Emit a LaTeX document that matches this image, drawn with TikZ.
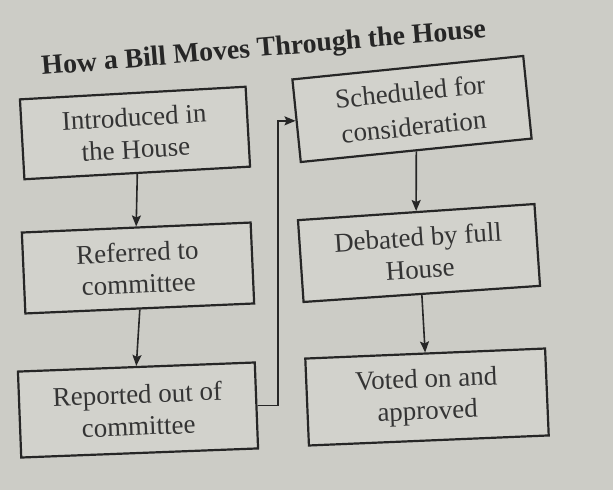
\documentclass[tikz,border=0pt]{standalone}
\usepackage{fontspec}
\setmainfont{Liberation Serif}
\usetikzlibrary{arrows.meta}
\definecolor{paper}{RGB}{204,204,198}
\definecolor{boxfill}{RGB}{210,210,204}
\definecolor{ink}{RGB}{38,38,38}
\definecolor{txt}{RGB}{52,52,52}
\tikzset{
  stepbox/.style={draw=ink, line width=2.2pt, fill=boxfill, align=center,
    text=txt, inner sep=0pt, font=\fontsize{27}{32}\selectfont},
  flow/.style={draw=ink, line width=1.6pt,
    -{Stealth[length=11pt,width=9pt,inset=2pt]}},
  titletext/.style={text=ink, inner sep=0pt,
    font=\fontsize{27.8}{30}\selectfont\bfseries}
}
\begin{document}
\begin{tikzpicture}[x=1pt,y=-1pt]
\useasboundingbox (0,0) rectangle (613,490);
\fill[paper] (0,0) rectangle (613,490);

\node[titletext, anchor=base west, rotate=4.8] (title) at (42,75)
  {How a Bill Moves Through the House};

\node[stepbox, minimum width=226pt, minimum height=80pt, rotate=3.2] (b1) at (135,133)
  {Introduced in\\the House};
\node[stepbox, minimum width=229pt, minimum height=81pt, rotate=2.5] (b2) at (138,268)
  {Referred to\\committee};
\node[stepbox, minimum width=237pt, minimum height=86pt, rotate=2.2] (b3) at (138,410)
  {Reported out of\\committee};
\node[stepbox, minimum width=232pt, minimum height=83pt, rotate=5.8,
  font=\fontsize{27}{35}\selectfont] (b4) at (412,109)
  {Scheduled for\\consideration};
\node[stepbox, minimum width=237pt, minimum height=82pt, rotate=3.9] (b5) at (419,253)
  {Debated by full\\House};
\node[stepbox, minimum width=240pt, minimum height=87pt, rotate=2.4] (b6) at (427,397)
  {Voted on and\\approved};

\coordinate (jx) at (278,0);

\draw[flow] (b1.south) -- (b2.north);
\draw[flow] (b2.south) -- (b3.north);
\draw[flow] (b4.south) -- (b5.north);
\draw[flow] (b5.south) -- (b6.north);
\draw[flow] (b3.east) -- (b3.east -| jx) |- (b4.west);
\end{tikzpicture}
\end{document}
